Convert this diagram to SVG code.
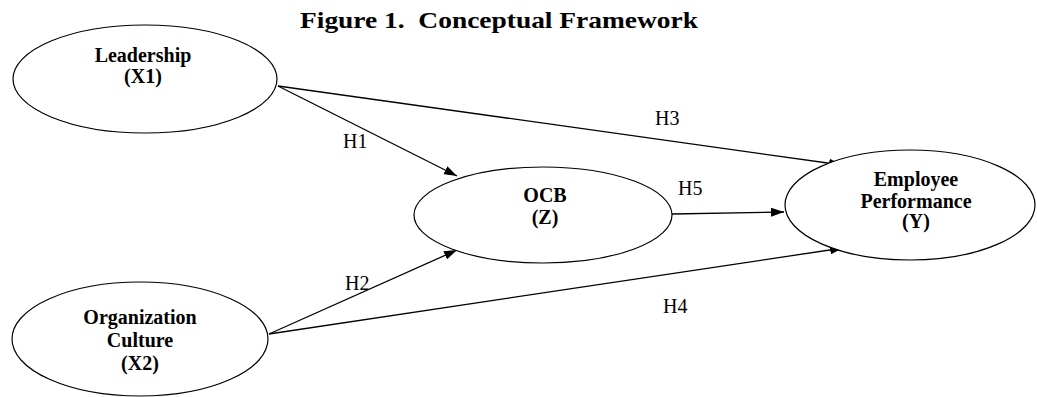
<svg xmlns="http://www.w3.org/2000/svg" width="1037" height="397" viewBox="0 0 1037 397">
<style>
.node{fill:#fff;stroke:#000;stroke-width:1.2}
.nt{font-family:"Liberation Serif",serif;font-weight:bold;font-size:20px;text-anchor:middle;fill:#000}
.lb{font-family:"Liberation Serif",serif;font-size:20px;fill:#000}
.title{font-family:"Liberation Serif",serif;font-weight:bold;font-size:23px;fill:#000}
.edge{stroke:#000;stroke-width:1.3;fill:none;marker-end:url(#arr)}
</style>
<defs>
<marker id="arr" markerWidth="13" markerHeight="9" refX="13" refY="4.5" orient="auto" markerUnits="userSpaceOnUse">
<path d="M0,0 L13,4.5 L0,9 Z" fill="#000"/>
</marker>
</defs>
<rect width="1037" height="397" fill="#fff"/>
<text class="title" x="300" y="28" textLength="398" lengthAdjust="spacingAndGlyphs" xml:space="preserve">Figure 1.  Conceptual Framework</text>
<g id="connectors">
<line class="edge" x1="278" y1="86" x2="457" y2="176"/>
<line class="edge" x1="278" y1="86" x2="842" y2="165"/>
<line class="edge" x1="269" y1="334" x2="457" y2="250"/>
<line class="edge" x1="269" y1="334" x2="843" y2="248"/>
<line class="edge" x1="672" y1="214" x2="784" y2="212"/>
</g>
<g id="labels">
<text class="lb" x="343" y="148">H1</text>
<text class="lb" x="655" y="125">H3</text>
<text class="lb" x="678" y="195">H5</text>
<text class="lb" x="345" y="290">H2</text>
<text class="lb" x="663" y="313">H4</text>
</g>
<g id="leadership">
<ellipse class="node" cx="145" cy="79" rx="132" ry="54"/>
<text class="nt" x="143" y="62">Leadership</text>
<text class="nt" x="143" y="83">(X1)</text>
</g>
<g id="culture">
<ellipse class="node" cx="140" cy="339" rx="128" ry="57"/>
<text class="nt" x="140" y="324">Organization</text>
<text class="nt" x="140" y="347">Culture</text>
<text class="nt" x="140" y="370">(X2)</text>
</g>
<g id="ocb">
<ellipse class="node" cx="543" cy="215" rx="129" ry="48"/>
<text class="nt" x="545" y="202">OCB</text>
<text class="nt" x="545" y="224">(Z)</text>
</g>
<g id="performance">
<ellipse class="node" cx="910" cy="205" rx="125" ry="55"/>
<text class="nt" x="916" y="186">Employee</text>
<text class="nt" x="916" y="208">Performance</text>
<text class="nt" x="916" y="228">(Y)</text>
</g>
</svg>
